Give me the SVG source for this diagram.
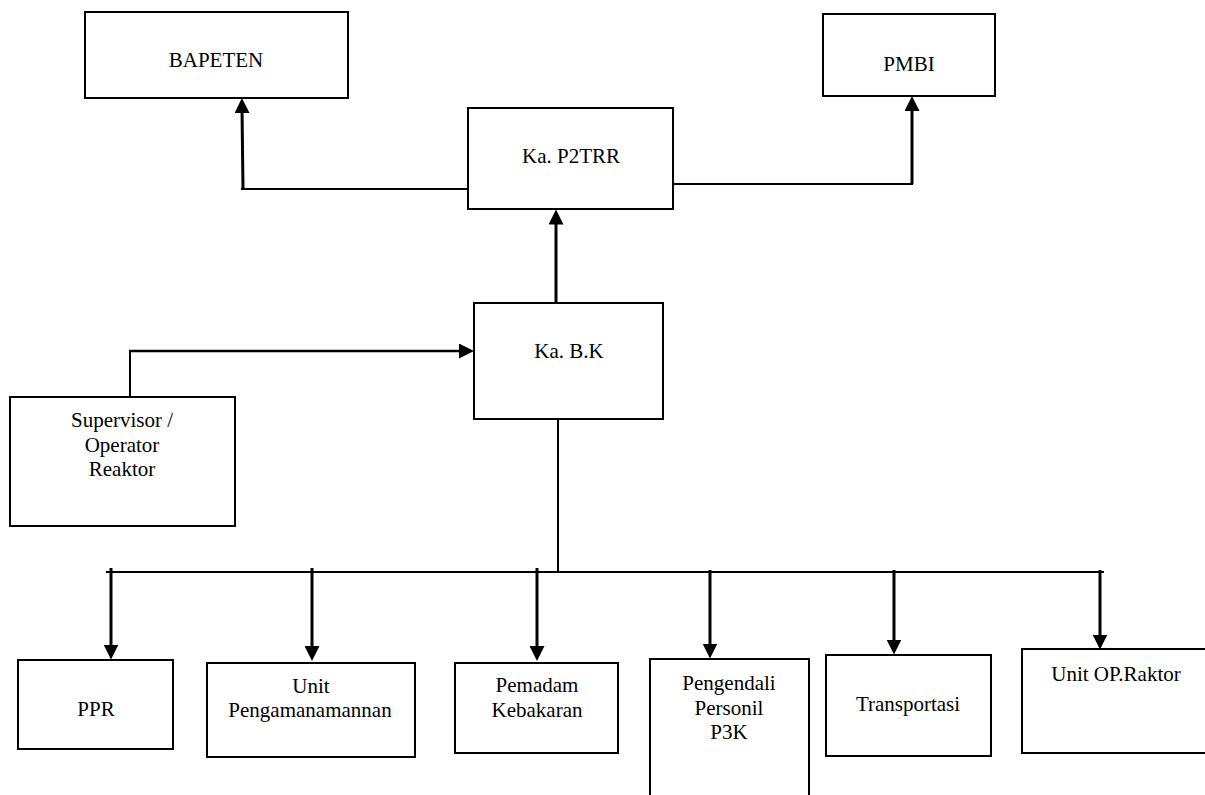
<svg xmlns="http://www.w3.org/2000/svg" width="1205" height="795" viewBox="0 0 1205 795">
  <style>
    .box { fill: #ffffff; stroke: #000000; stroke-width: 2; }
    .lbl { font-family: 'Liberation Serif', Tinos, 'Nimbus Roman', 'Times New Roman', Times, 'DejaVu Serif', serif; font-size: 21px; fill: #000000; text-anchor: middle; }
    .thin { stroke: #000000; stroke-width: 2; fill: none; }
    .arr { stroke: #000000; stroke-width: 3; fill: none; marker-end: url(#head); }
  </style>
  <defs>
    <marker id="head" markerUnits="userSpaceOnUse" markerWidth="15" markerHeight="15" refX="5" refY="7.5" orient="auto">
      <path d="M0,0 L15,7.5 L0,15 z" fill="#000000"/>
    </marker>
  </defs>
  <rect width="1205" height="795" fill="#ffffff"/>

  <g id="connectors">
    <line class="thin" x1="468" y1="189" x2="241" y2="189"/>
    <line class="arr" x1="243" y1="189" x2="242" y2="108"/>
    <line class="thin" x1="673" y1="184" x2="913" y2="184"/>
    <line class="arr" x1="912" y1="184" x2="912" y2="106"/>
    <line class="arr" x1="556" y1="303" x2="556" y2="219.5"/>
    <line class="thin" x1="130" y1="397" x2="130" y2="350"/>
    <line class="arr" x1="129" y1="351" x2="464" y2="351" style="stroke-width:2.5"/>
    <line class="thin" x1="558" y1="419" x2="558" y2="572"/>
    <line class="thin" x1="106" y1="572" x2="1104" y2="572"/>
    <line class="arr" x1="111" y1="568" x2="111" y2="649.5"/>
    <line class="arr" x1="312" y1="568" x2="312" y2="651"/>
    <line class="arr" x1="537" y1="568" x2="537" y2="651"/>
    <line class="arr" x1="710" y1="570" x2="710" y2="648.5"/>
    <line class="arr" x1="894" y1="570" x2="894" y2="644.5"/>
    <line class="arr" x1="1100" y1="570" x2="1100" y2="639.5"/>
  </g>

  <g id="node-bapeten">
    <rect class="box" x="85" y="12" width="263" height="86"/>
    <text class="lbl" font-family="Liberation Serif, serif" x="216" y="67">BAPETEN</text>
  </g>
  <g id="node-p2trr">
    <rect class="box" x="468" y="108" width="205" height="101"/>
    <text class="lbl" x="571" y="163">Ka. P2TRR</text>
  </g>
  <g id="node-pmbi">
    <rect class="box" x="823" y="14" width="172" height="82"/>
    <text class="lbl" x="909" y="71">PMBI</text>
  </g>
  <g id="node-kabk">
    <rect class="box" x="474" y="303" width="189" height="116"/>
    <text class="lbl" x="569" y="358">Ka. B.K</text>
  </g>
  <g id="node-supervisor">
    <rect class="box" x="10" y="397" width="225" height="129"/>
    <text class="lbl" x="122" y="427">Supervisor /</text>
    <text class="lbl" x="122" y="452">Operator</text>
    <text class="lbl" x="122" y="476">Reaktor</text>
  </g>
  <g id="node-ppr">
    <rect class="box" x="18" y="660" width="155" height="89"/>
    <text class="lbl" x="96" y="716">PPR</text>
  </g>
  <g id="node-unit-pengamanan">
    <rect class="box" x="207" y="663" width="208" height="94"/>
    <text class="lbl" x="311" y="693">Unit</text>
    <text class="lbl" x="310" y="717">Pengamanamannan</text>
  </g>
  <g id="node-pemadam">
    <rect class="box" x="455" y="663" width="163" height="90"/>
    <text class="lbl" x="537" y="692">Pemadam</text>
    <text class="lbl" x="537" y="717">Kebakaran</text>
  </g>
  <g id="node-pengendali">
    <rect class="box" x="650" y="659" width="159" height="160"/>
    <text class="lbl" x="729" y="690">Pengendali</text>
    <text class="lbl" x="729" y="715">Personil</text>
    <text class="lbl" x="729" y="739">P3K</text>
  </g>
  <g id="node-transportasi">
    <rect class="box" x="826" y="655" width="165" height="101"/>
    <text class="lbl" x="908" y="711">Transportasi</text>
  </g>
  <g id="node-unit-op">
    <rect class="box" x="1022" y="649" width="200" height="104"/>
    <text class="lbl" x="1116" y="681">Unit OP.Raktor</text>
  </g>
</svg>
